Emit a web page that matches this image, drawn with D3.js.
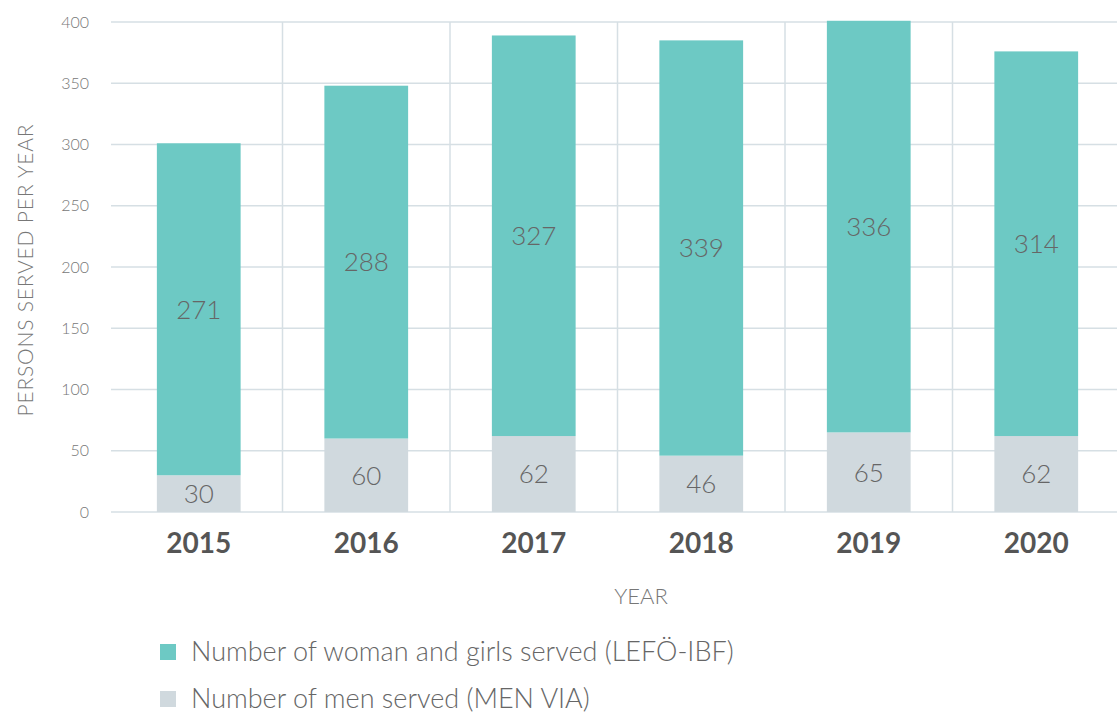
<!DOCTYPE html>
<html>
<head>
<meta charset="utf-8">
<script src="https://cdn.jsdelivr.net/npm/d3@7"></script>
<style>
  body { margin: 0; background: #fff; }
  text { font-family: Lato, "Open Sans", sans-serif; }
</style>
</head>
<body>
<div id="chart"></div>
<script>
const years = ['2015', '2016', '2017', '2018', '2019', '2020']
const women = [271, 288, 327, 339, 336, 314]
const men = [30, 60, 62, 46, 65, 62]
const yTicks = [0, 50, 100, 150, 200, 250, 300, 350, 400]
const seriesNames = ['Number of woman and girls served (LEFÖ-IBF)', 'Number of men served (MEN VIA)']

const W = 1117, H = 713
const MARGIN = { TOP: 22, LEFT: 111, RIGHT: 0 }
const BOTTOM = 512
const TEAL = '#6dc9c4', GREY = '#d0d9de', GRID = '#d6dfe4'

const svg = d3.select('#chart').append('svg')
  .attr('width', W)
  .attr('height', H)

const y = d3.scaleLinear()
  .domain([0, 400])
  .range([BOTTOM, MARGIN.TOP])

const x = d3.scaleBand()
  .domain(years)
  .range([115, 1120])
  .paddingInner(0)
  .paddingOuter(0)

const barW = x.bandwidth() / 2

// horizontal grid
svg.append('g').selectAll('line')
  .data(yTicks)
  .enter().append('line')
    .attr('x1', MARGIN.LEFT)
    .attr('x2', W)
    .attr('y1', d => y(d))
    .attr('y2', d => y(d))
    .attr('stroke', GRID)
    .attr('stroke-width', 1.5)

// vertical grid between years
svg.append('g').selectAll('line')
  .data(years.slice(1))
  .enter().append('line')
    .attr('x1', d => x(d))
    .attr('x2', d => x(d))
    .attr('y1', y(400))
    .attr('y2', y(0))
    .attr('stroke', GRID)
    .attr('stroke-width', 1.5)

// y tick labels
svg.append('g').selectAll('text')
  .data(yTicks)
  .enter().append('text')
    .attr('x', 89)
    .attr('y', d => y(d))
    .attr('dy', '0.35em')
    .attr('text-anchor', 'end')
    .attr('font-size', 16)
    .attr('font-weight', 300)
    .attr('fill', '#777')
    .text(d => d)

const data = years.map((yr, i) => ({ year: yr, men: men[i], women: women[i] }))

const groups = svg.append('g').selectAll('g')
  .data(data)
  .enter().append('g')
    .attr('transform', d => `translate(${x(d.year) + x.bandwidth() / 2 - barW / 2}, 0)`)

groups.append('rect')
  .attr('x', 0)
  .attr('width', barW)
  .attr('y', d => y(d.men))
  .attr('height', d => y(0) - y(d.men))
  .attr('fill', GREY)

groups.append('rect')
  .attr('x', 0)
  .attr('width', barW)
  .attr('y', d => y(d.men + d.women))
  .attr('height', d => y(d.men) - y(d.men + d.women))
  .attr('fill', TEAL)

groups.append('text')
  .attr('x', barW / 2)
  .attr('y', d => y(d.men / 2))
  .attr('dy', '0.36em')
  .attr('text-anchor', 'middle')
  .attr('font-size', 26)
  .attr('font-weight', 300)
  .attr('fill', '#666')
  .text(d => d.men)

groups.append('text')
  .attr('x', barW / 2)
  .attr('y', d => y(d.men + d.women / 2))
  .attr('dy', '0.36em')
  .attr('text-anchor', 'middle')
  .attr('font-size', 26)
  .attr('font-weight', 300)
  .attr('fill', '#666')
  .text(d => d.women)

// x labels
svg.append('g').selectAll('text')
  .data(years)
  .enter().append('text')
    .attr('x', d => x(d) + x.bandwidth() / 2)
    .attr('y', 553)
    .attr('text-anchor', 'middle')
    .attr('font-size', 28)
    .attr('font-weight', 700)
    .attr('fill', '#555')
    .text(d => d)

svg.append('text')
  .attr('x', 641)
  .attr('y', 604)
  .attr('text-anchor', 'middle')
  .attr('font-size', 22)
  .attr('font-weight', 300)
  .attr('fill', '#777')
  .text('YEAR')

svg.append('text')
  .attr('transform', 'rotate(-90)')
  .attr('x', -270)
  .attr('y', 33)
  .attr('text-anchor', 'middle')
  .attr('font-size', 21)
  .attr('font-weight', 300)
  .attr('letter-spacing', 0.8)
  .attr('fill', '#777')
  .text('PERSONS SERVED PER YEAR')

// legend
const legend = svg.append('g').selectAll('g')
  .data(seriesNames)
  .enter().append('g')
    .attr('transform', (d, i) => `translate(160, ${652 + i * 47})`)

legend.append('rect')
  .attr('x', 0)
  .attr('y', -8)
  .attr('width', 16)
  .attr('height', 16)
  .attr('fill', (d, i) => i === 0 ? TEAL : GREY)

legend.append('text')
  .attr('x', 31)
  .attr('y', 0)
  .attr('dy', '0.35em')
  .attr('font-size', 27)
  .attr('font-weight', 300)
  .attr('fill', '#666')
  .text(d => d)
</script>
</body>
</html>
